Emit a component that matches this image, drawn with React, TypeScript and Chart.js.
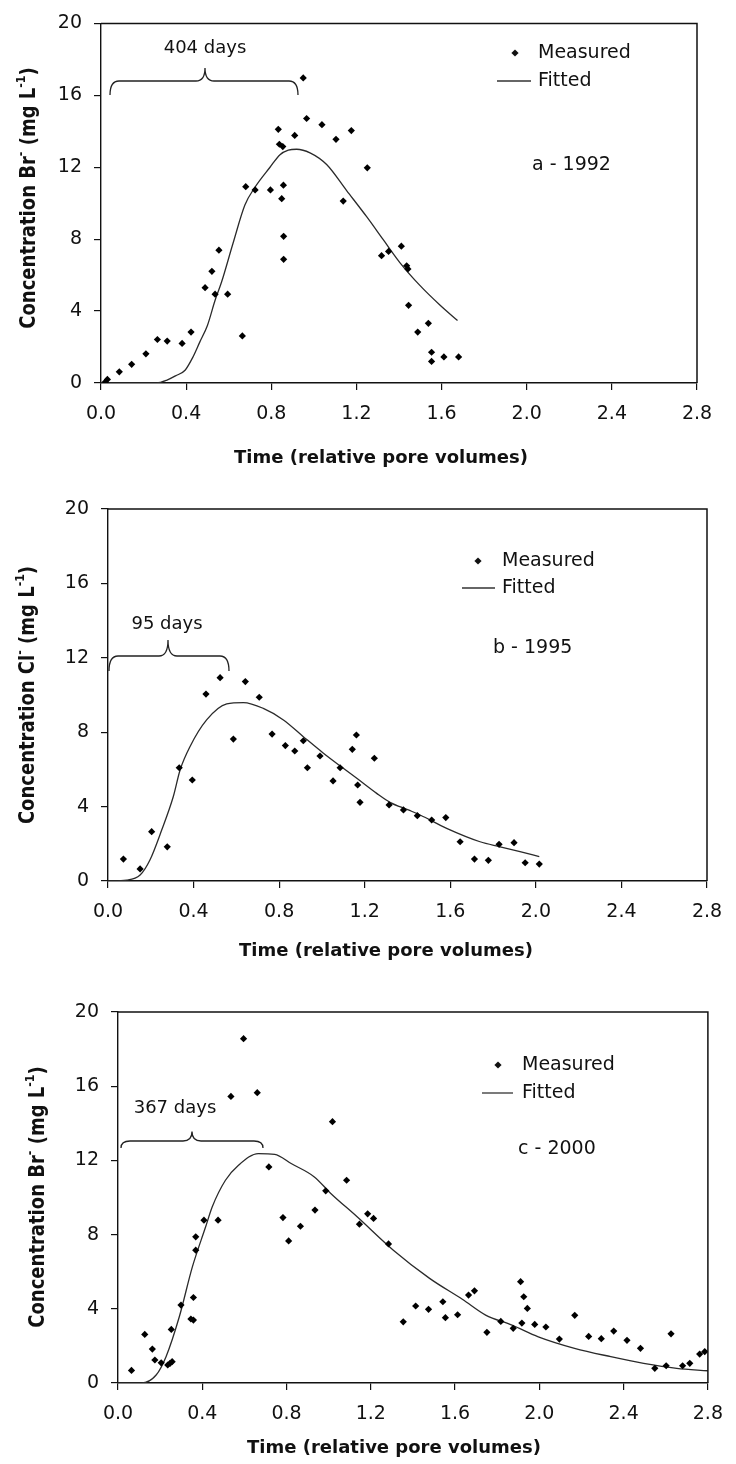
import React, { useEffect, useRef } from "react";
import { Chart, registerables } from "chart.js";
Chart.register(...registerables);

// ---------- tick values / labels ----------
const X_TICKS = [0, 0.4, 0.8, 1.2, 1.6, 2.0, 2.4, 2.8];
const X_TICK_LABELS = ["0.0", "0.4", "0.8", "1.2", "1.6", "2.0", "2.4", "2.8"];
const Y_TICKS = [0, 4, 8, 12, 16, 20];
const Y_TICK_LABELS = ["0", "4", "8", "12", "16", "20"];

// ---------- panel a (1992) ----------
const MEAS_A_X = [0.02, 0.03, 0.086, 0.144, 0.211, 0.265, 0.311, 0.381, 0.423, 0.489, 0.521, 0.536, 0.554, 0.595, 0.664, 0.68, 0.724, 0.796, 0.833, 0.838, 0.849, 0.854, 0.857, 0.858, 0.858, 0.91, 0.95, 0.966, 1.038, 1.104, 1.138, 1.176, 1.251, 1.318, 1.351, 1.411, 1.436, 1.442, 1.445, 1.488, 1.538, 1.553, 1.553, 1.611, 1.68];
const MEAS_A_Y = [0.05, 0.2, 0.62, 1.04, 1.62, 2.42, 2.33, 2.2, 2.83, 5.3, 6.21, 4.94, 7.39, 4.94, 2.62, 10.92, 10.74, 10.74, 14.11, 13.28, 10.25, 13.15, 11.0, 8.16, 6.88, 13.77, 16.97, 14.71, 14.37, 13.55, 10.12, 14.04, 11.97, 7.08, 7.32, 7.61, 6.52, 6.34, 4.32, 2.83, 3.32, 1.71, 1.2, 1.45, 1.45];
const FIT_A_X = [0, 0.26, 0.31, 0.35, 0.395, 0.43, 0.465, 0.5, 0.536, 0.566, 0.621, 0.676, 0.724, 0.794, 0.841, 0.88, 0.919, 0.982, 1.06, 1.154, 1.248, 1.326, 1.404, 1.498, 1.592, 1.675];
const FIT_A_Y = [0, 0, 0.16, 0.4, 0.71, 1.4, 2.3, 3.2, 4.6, 5.6, 7.8, 9.9, 10.9, 12.0, 12.7, 12.95, 13.0, 12.8, 12.15, 10.7, 9.25, 7.97, 6.7, 5.43, 4.34, 3.47];

// ---------- panel b (1995) ----------
const MEAS_B_X = [0.072, 0.15, 0.204, 0.277, 0.333, 0.394, 0.458, 0.524, 0.586, 0.642, 0.707, 0.767, 0.829, 0.873, 0.913, 0.932, 0.991, 1.052, 1.085, 1.142, 1.161, 1.167, 1.178, 1.245, 1.314, 1.381, 1.446, 1.513, 1.579, 1.646, 1.713, 1.778, 1.828, 1.898, 1.95, 2.016];
const MEAS_B_Y = [1.18, 0.65, 2.65, 1.84, 6.09, 5.43, 10.05, 10.93, 7.63, 10.72, 9.88, 7.9, 7.28, 6.99, 7.54, 6.09, 6.72, 5.38, 6.09, 7.08, 7.85, 5.16, 4.23, 6.6, 4.09, 3.82, 3.51, 3.28, 3.41, 2.11, 1.18, 1.11, 1.97, 2.06, 0.98, 0.91];
const FIT_B_X = [0, 0.087, 0.15, 0.196, 0.251, 0.305, 0.337, 0.383, 0.461, 0.555, 0.633, 0.726, 0.82, 0.913, 1.007, 1.1, 1.163, 1.256, 1.318, 1.404, 1.459, 1.583, 1.739, 1.833, 1.926, 2.016];
const FIT_B_Y = [0, 0.05, 0.32, 1.13, 2.74, 4.53, 5.97, 7.22, 8.66, 9.52, 9.59, 9.28, 8.66, 7.76, 6.87, 6.06, 5.52, 4.71, 4.23, 3.82, 3.55, 2.83, 2.11, 1.84, 1.58, 1.31];

// ---------- panel c (2000) ----------
const MEAS_C_X = [0.064, 0.127, 0.163, 0.175, 0.205, 0.236, 0.247, 0.257, 0.253, 0.299, 0.346, 0.358, 0.358, 0.369, 0.369, 0.408, 0.475, 0.536, 0.596, 0.661, 0.716, 0.783, 0.81, 0.866, 0.935, 0.986, 1.018, 1.085, 1.146, 1.185, 1.213, 1.284, 1.354, 1.413, 1.474, 1.542, 1.554, 1.612, 1.664, 1.692, 1.751, 1.817, 1.876, 1.911, 1.917, 1.926, 1.943, 1.978, 2.031, 2.095, 2.168, 2.234, 2.294, 2.353, 2.416, 2.48, 2.548, 2.602, 2.625, 2.68, 2.714, 2.761, 2.785];
const MEAS_C_Y = [0.68, 2.62, 1.83, 1.24, 1.09, 0.97, 1.06, 1.15, 2.89, 4.2, 3.45, 3.39, 4.61, 7.16, 7.88, 8.78, 8.78, 15.45, 18.56, 15.65, 11.65, 8.92, 7.66, 8.45, 9.32, 10.36, 14.09, 10.93, 8.56, 9.12, 8.87, 7.5, 3.3, 4.15, 3.97, 4.38, 3.52, 3.68, 4.74, 4.97, 2.73, 3.32, 2.95, 5.46, 3.23, 4.65, 4.02, 3.16, 3.02, 2.37, 3.65, 2.51, 2.39, 2.8, 2.3, 1.87, 0.79, 0.93, 2.65, 0.93, 1.06, 1.56, 1.69];
const FIT_C_X = [0, 0.111, 0.181, 0.228, 0.291, 0.353, 0.416, 0.447, 0.51, 0.572, 0.666, 0.744, 0.822, 0.932, 1.01, 1.135, 1.307, 1.479, 1.636, 1.745, 1.87, 1.995, 2.167, 2.339, 2.495, 2.652, 2.8];
const FIT_C_Y = [0, 0, 0.43, 1.42, 3.57, 6.26, 8.42, 9.49, 10.93, 11.74, 12.37, 12.33, 11.83, 11.11, 10.22, 8.96, 7.16, 5.64, 4.5, 3.66, 3.12, 2.49, 1.87, 1.42, 1.06, 0.79, 0.66];

// ---------- texts ----------
const X_TITLE = "Time (relative pore volumes)";
const LEGEND_MEASURED = "Measured";
const LEGEND_FITTED = "Fitted";

type Part = { t: string; sup?: boolean };
type PanelCfg = {
  top: number; height: number; left: number; right: number; padTop: number; xAxisH: number;
  measX: number[]; measY: number[]; fitX: number[]; fitY: number[];
  yTitle: Part[]; yTitleX: number; yTitleY: number;
  xTitleX: number; xTitleY: number;
  legDiamond: [number, number]; legTextX: number; legFitY: number; legLine: [number, number];
  label: string; labelX: number; labelY: number;
  brace: { x0: number; x1: number; mid: number; lineY: number; hook: number; peak: number; text: string; tx: number; ty: number };
};

const PANELS: PanelCfg[] = [
  {
    top: 0, height: 480, left: 101, right: 697, padTop: 16, xAxisH: 97,
    measX: MEAS_A_X, measY: MEAS_A_Y, fitX: FIT_A_X, fitY: FIT_A_Y,
    yTitle: [{ t: "Concentration Br" }, { t: "-", sup: true }, { t: " (mg L" }, { t: "-1", sup: true }, { t: ")" }],
    yTitleX: 30, yTitleY: 198, xTitleX: 381, xTitleY: 458,
    legDiamond: [515, 53], legTextX: 538, legFitY: 81, legLine: [497, 531],
    label: "a - 1992", labelX: 532, labelY: 165,
    brace: { x0: 110, x1: 298, mid: 205, lineY: 81, hook: 14, peak: 13, text: "404 days", tx: 205, ty: 48 },
  },
  {
    top: 485, height: 490, left: 108, right: 707, padTop: 24, xAxisH: 94,
    measX: MEAS_B_X, measY: MEAS_B_Y, fitX: FIT_B_X, fitY: FIT_B_Y,
    yTitle: [{ t: "Concentration Cl" }, { t: "-", sup: true }, { t: " (mg L" }, { t: "-1", sup: true }, { t: ")" }],
    yTitleX: 29, yTitleY: 210, xTitleX: 386, xTitleY: 466,
    legDiamond: [478, 76], legTextX: 502, legFitY: 103, legLine: [462, 495],
    label: "b - 1995", labelX: 493, labelY: 163,
    brace: { x0: 109, x1: 229, mid: 168, lineY: 171, hook: 15, peak: 16, text: "95 days", tx: 167, ty: 139 },
  },
  {
    top: 975, height: 489, left: 118, right: 715, padTop: 37, xAxisH: 81,
    measX: MEAS_C_X, measY: MEAS_C_Y, fitX: FIT_C_X, fitY: FIT_C_Y,
    yTitle: [{ t: "Concentration Br" }, { t: "-", sup: true }, { t: " (mg L" }, { t: "-1", sup: true }, { t: ")" }],
    yTitleX: 39, yTitleY: 222, xTitleX: 394, xTitleY: 473,
    legDiamond: [498, 90], legTextX: 522, legFitY: 118, legLine: [482, 513],
    label: "c - 2000", labelX: 518, labelY: 174,
    brace: { x0: 121, x1: 263, mid: 192, lineY: 166, hook: 7, peak: 9.5, text: "367 days", tx: 175, ty: 133 },
  },
];

const INK = "#111";
const FONT = '"DejaVu Sans", "Liberation Sans", sans-serif';

function makeDecor(p: PanelCfg) {
  return {
    id: "decor" + p.top,
    afterDraw(chart: any) {
      const { ctx, chartArea: ca } = chart;
      ctx.save();
      // frame top & right
      ctx.strokeStyle = INK;
      ctx.lineWidth = 1.5;
      ctx.beginPath();
      ctx.moveTo(ca.left, ca.top);
      ctx.lineTo(ca.right, ca.top);
      ctx.lineTo(ca.right, ca.bottom);
      ctx.stroke();

      ctx.fillStyle = INK;
      // y title (rotated, with superscripts)
      ctx.save();
      ctx.translate(p.yTitleX, p.yTitleY);
      ctx.rotate(-Math.PI / 2);
      ctx.scale(1, 1.15);
      const mainF = "bold 18px " + FONT;
      const supF = "bold 11px " + FONT;
      let total = 0;
      for (const s of p.yTitle) {
        ctx.font = s.sup ? supF : mainF;
        total += ctx.measureText(s.t).width;
      }
      let x = -total / 2;
      ctx.textBaseline = "middle";
      ctx.textAlign = "left";
      for (const s of p.yTitle) {
        ctx.font = s.sup ? supF : mainF;
        ctx.fillText(s.t, x, s.sup ? -7 : 0);
        x += ctx.measureText(s.t).width;
      }
      ctx.restore();

      // x title
      ctx.font = "bold 18px " + FONT;
      ctx.textAlign = "center";
      ctx.textBaseline = "middle";
      ctx.fillText(X_TITLE, p.xTitleX, p.xTitleY);

      // legend
      const [dx, dy] = p.legDiamond;
      const r = 3.6;
      ctx.beginPath();
      ctx.moveTo(dx, dy - r);
      ctx.lineTo(dx + r, dy);
      ctx.lineTo(dx, dy + r);
      ctx.lineTo(dx - r, dy);
      ctx.closePath();
      ctx.fill();
      ctx.font = "19px " + FONT;
      ctx.textAlign = "left";
      ctx.fillText(LEGEND_MEASURED, p.legTextX, dy);
      ctx.fillText(LEGEND_FITTED, p.legTextX, p.legFitY);
      ctx.strokeStyle = "#333";
      ctx.lineWidth = 1.3;
      ctx.beginPath();
      ctx.moveTo(p.legLine[0], p.legFitY);
      ctx.lineTo(p.legLine[1], p.legFitY);
      ctx.stroke();

      // panel label
      ctx.fillText(p.label, p.labelX, p.labelY);

      // brace
      const b = p.brace;
      const rr = 9;
      const yb = b.lineY + b.hook;
      ctx.strokeStyle = "#222";
      ctx.lineWidth = 1.3;
      ctx.beginPath();
      ctx.moveTo(b.x0, yb);
      ctx.quadraticCurveTo(b.x0, b.lineY, b.x0 + rr, b.lineY);
      ctx.lineTo(b.mid - rr, b.lineY);
      ctx.quadraticCurveTo(b.mid, b.lineY, b.mid, b.lineY - b.peak);
      ctx.quadraticCurveTo(b.mid, b.lineY, b.mid + rr, b.lineY);
      ctx.lineTo(b.x1 - rr, b.lineY);
      ctx.quadraticCurveTo(b.x1, b.lineY, b.x1, yb);
      ctx.stroke();
      ctx.font = "18px " + FONT;
      ctx.textAlign = "center";
      ctx.fillText(b.text, b.tx, b.ty);
      ctx.restore();
    },
  };
}

function makeConfig(p: PanelCfg): any {
  const tickFont = { family: FONT, size: 19 };
  return {
    type: "scatter",
    data: {
      datasets: [
        {
          type: "scatter",
          label: LEGEND_MEASURED,
          data: p.measX.map((x, i) => ({ x, y: p.measY[i] })),
          pointStyle: "rectRot",
          pointRadius: 3.6,
          backgroundColor: "#000",
          borderColor: "#000",
          borderWidth: 0,
          order: 1,
        },
        {
          type: "line",
          label: LEGEND_FITTED,
          data: p.fitX.map((x, i) => ({ x, y: p.fitY[i] })),
          borderColor: "#2a2a2a",
          borderWidth: 1.3,
          pointRadius: 0,
          fill: false,
          cubicInterpolationMode: "monotone",
          order: 2,
        },
      ],
    },
    options: {
      responsive: false,
      maintainAspectRatio: false,
      animation: false,
      devicePixelRatio: 1,
      layout: { padding: { left: 0, top: p.padTop, right: 736 - p.right, bottom: 0 } },
      plugins: { legend: { display: false }, tooltip: { enabled: false } },
      scales: {
        x: {
          type: "linear",
          min: 0,
          max: 2.8,
          afterBuildTicks: (s: any) => { s.ticks = X_TICKS.map((v) => ({ value: v })); },
          afterFit: (s: any) => { s.height = p.xAxisH; },
          ticks: {
            callback: (_v: any, i: number) => X_TICK_LABELS[i],
            font: tickFont, color: INK, padding: 13, maxRotation: 0, autoSkip: false,
          },
          grid: { drawOnChartArea: false, drawTicks: true, tickLength: 7, color: INK, lineWidth: 1.2 },
          border: { display: true, color: INK, width: 1.4 },
        },
        y: {
          type: "linear",
          min: 0,
          max: 20,
          afterBuildTicks: (s: any) => { s.ticks = Y_TICKS.map((v) => ({ value: v })); },
          afterFit: (s: any) => { s.width = p.left; },
          ticks: {
            callback: (_v: any, i: number) => Y_TICK_LABELS[i],
            font: tickFont, color: INK, padding: 12,
          },
          grid: { drawOnChartArea: false, drawTicks: true, tickLength: 7, color: INK, lineWidth: 1.2 },
          border: { display: true, color: INK, width: 1.4 },
        },
      },
    },
    plugins: [makeDecor(p)],
  };
}

function Panel({ cfg }: { cfg: PanelCfg }) {
  const ref = useRef<HTMLCanvasElement>(null);
  useEffect(() => {
    if (!ref.current) return;
    const chart = new Chart(ref.current, makeConfig(cfg));
    return () => chart.destroy();
  }, [cfg]);
  return (
    <canvas
      ref={ref}
      width={736}
      height={cfg.height}
      style={{ position: "absolute", left: 0, top: cfg.top, width: 736, height: cfg.height, display: "block" }}
    />
  );
}

export default function App() {
  return (
    <div style={{ position: "absolute", left: 0, top: 0, width: 736, height: 1464, background: "#fff", overflow: "hidden" }}>
      {PANELS.map((p) => (
        <Panel key={p.top} cfg={p} />
      ))}
    </div>
  );
}
